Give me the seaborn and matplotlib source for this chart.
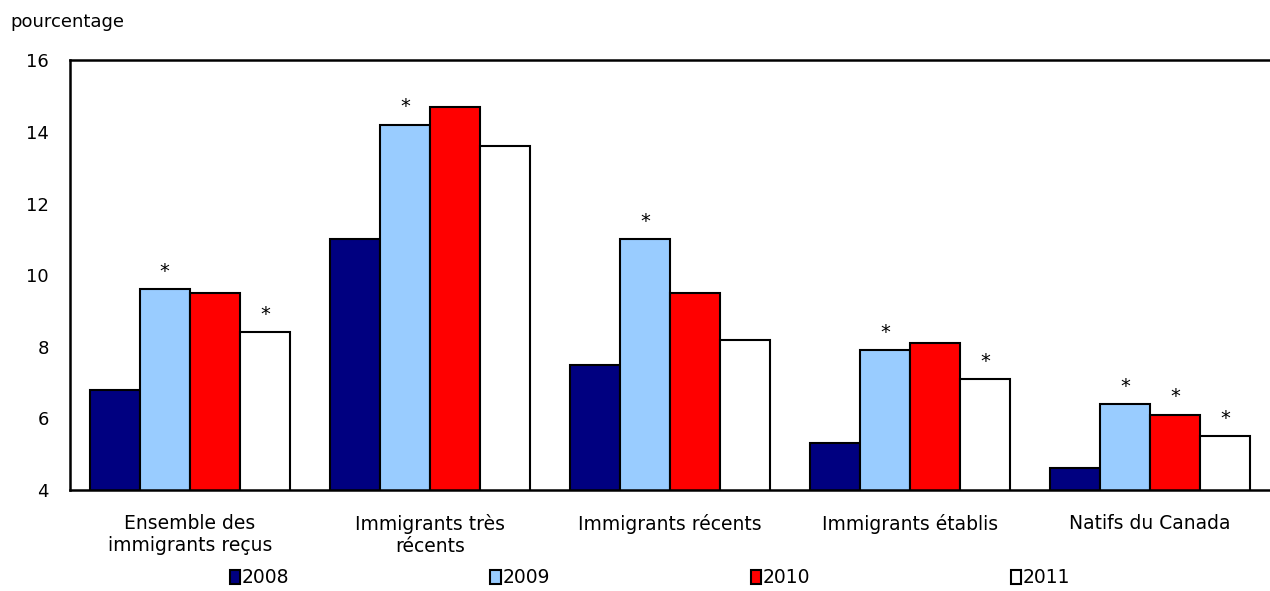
import matplotlib
matplotlib.use("Agg")
import matplotlib.pyplot as plt
import seaborn as sns
import pandas as pd

# Data
categories = ["Ensemble des\nimmigrants reçus", "Immigrants très\nrécents",
              "Immigrants récents", "Immigrants établis", "Natifs du Canada"]
years = ["2008", "2009", "2010", "2011"]
v2008 = [6.8, 11.0, 7.5, 5.3, 4.6]
v2009 = [9.6, 14.2, 11.0, 7.9, 6.4]
v2010 = [9.5, 14.7, 9.5, 8.1, 6.1]
v2011 = [8.4, 13.6, 8.2, 7.1, 5.5]
# significance markers (*) per year, per category
stars = {
    "2008": [False, False, False, False, False],
    "2009": [True, True, True, True, True],
    "2010": [False, False, False, False, True],
    "2011": [True, False, False, True, True],
}

rows = []
for yr, vals in zip(years, [v2008, v2009, v2010, v2011]):
    for cat, v in zip(categories, vals):
        rows.append({"Catégorie": cat, "Année": yr, "Valeur": v})
df = pd.DataFrame(rows)

palette = {"2008": "#000080", "2009": "#99CCFF", "2010": "#FF0000", "2011": "#FFFFFF"}

sns.set_style("white")
plt.rcParams["font.family"] = ["DejaVu Sans"]
plt.rcParams["text.color"] = "black"
plt.rcParams["xtick.color"] = "black"
plt.rcParams["ytick.color"] = "black"

fig = plt.figure(figsize=(12.7, 5.91), dpi=100)
ax = fig.add_axes([0.055, 0.171, 0.945, 0.727])

sns.barplot(data=df, x="Catégorie", y="Valeur", hue="Année", palette=palette,
            width=0.835, gap=0, edgecolor="black", linewidth=1.5,
            saturation=1, ax=ax, legend=True)

ax.set_ylim(4, 16)
ax.set_yticks([4, 6, 8, 10, 12, 14, 16])
ax.set_xlim(-0.5, 4.5)
ax.set_xlabel("")
ax.set_ylabel("")
ax.tick_params(axis="y", direction="in", length=6, width=1.2, labelsize=13, pad=15)
ax.tick_params(axis="x", length=0, labelsize=13.5, pad=17)
for s in ["left", "bottom", "top"]:
    ax.spines[s].set_linewidth(1.8)
    ax.spines[s].set_color("black")
ax.spines["right"].set_visible(False)

for cont, yr in zip(ax.containers, years):
    labels = ["*" if s else "" for s in stars[yr]]
    ax.bar_label(cont, labels=labels, padding=6, fontsize=14, color="black")

fig.text(0.008, 0.962, "pourcentage", fontsize=13, ha="left", va="center")

handles, labels = ax.get_legend_handles_labels()
ax.legend_.remove()
fig.legend(handles, labels, loc="center", bbox_to_anchor=(0.512, 0.022), ncol=4,
           frameon=False, fontsize=13.5, handlelength=0.55, handleheight=0.8,
           handletextpad=0.1, columnspacing=10.7, borderaxespad=0)

fig.savefig("out.png", dpi=100)
